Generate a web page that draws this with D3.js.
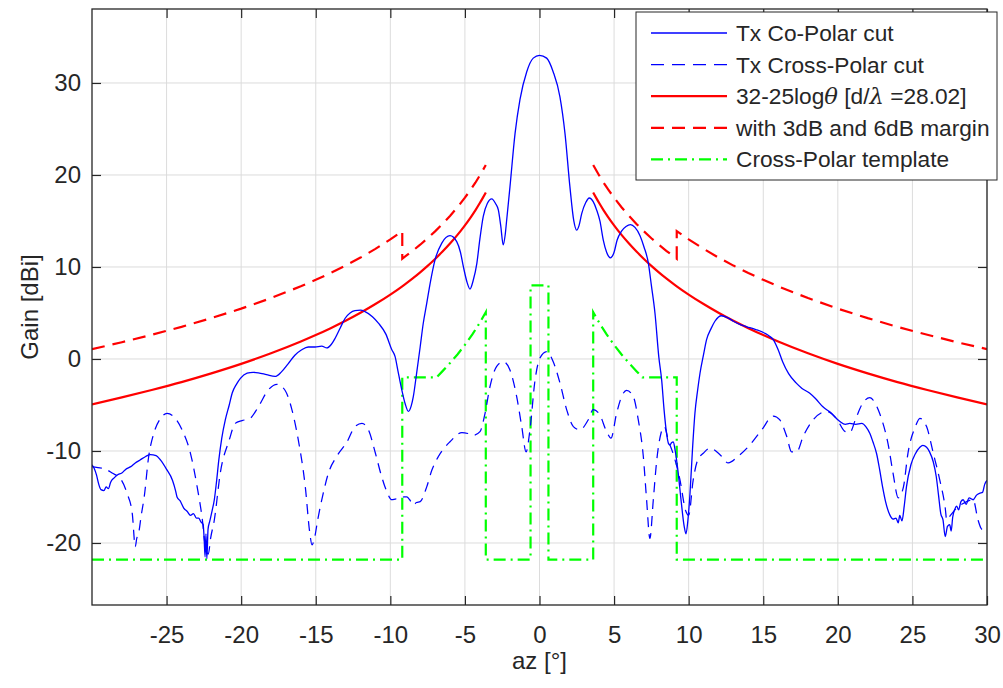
<!DOCTYPE html>
<html><head><meta charset="utf-8">
<script src="https://cdn.jsdelivr.net/npm/d3@7"></script>
<style>
body{margin:0;background:#fff;}
svg{display:block;}
text{font-family:"Liberation Sans",Arial,Helvetica,sans-serif;fill:#262626;}
</style>
</head><body>
<svg id="chart" width="1003" height="688"></svg>
<script>
// ---------- data ----------
const xTicks = [-25,-20,-15,-10,-5,0,5,10,15,20,25,30];
const yTicks = [-20,-10,0,10,20,30];

const coAz = [-30,-29.85,-29.7,-29.55,-29.4,-29.2,-29.05,-28.9,-28.75,-28.5,-28.3,-28,-27.75,-27.4,-27.1,-26.8,-26.4,-26.1,-25.7,-25.4,-25,-24.6,-24.4,-24.3,-24.1,-23.85,-23.6,-23.4,-23.2,-23,-22.85,-22.7,-22.55,-22.48,-22.42,-22.36,-22.3,-22.22,-22.1,-21.95,-21.8,-21.65,-21.5,-21.3,-21.06,-20.8,-20.6,-20.3,-20.05,-19.6,-19.2,-18.85,-18.3,-17.73,-17.3,-16.84,-16.4,-15.94,-15.5,-15.05,-14.6,-14.26,-13.95,-13.7,-13.35,-13.04,-12.7,-12.37,-12,-11.7,-11.2,-10.8,-10.3,-9.9,-9.68,-9.5,-9.24,-9,-8.79,-8.6,-8.46,-8.25,-8,-7.8,-7.56,-7.3,-7,-6.55,-6,-5.55,-5.3,-5.1,-4.85,-4.66,-4.45,-4.2,-4,-3.77,-3.5,-3.2,-2.95,-2.76,-2.6,-2.43,-2.3,-2.2,-1.98,-1.64,-1.31,-0.86,-0.42,0,0.48,0.92,1.37,1.71,2.04,2.3,2.49,2.65,2.83,3.1,3.34,3.6,3.83,4.05,4.28,4.5,4.75,5,5.2,5.5,5.8,6.1,6.4,6.74,7,7.3,7.5,7.74,8,8.19,8.35,8.52,8.65,8.75,8.85,8.97,9.1,9.3,9.5,9.7,9.82,9.95,10.09,10.25,10.42,10.6,10.76,11,11.2,11.5,11.76,12.2,12.6,13,13.5,13.9,14.5,15.1,15.4,15.67,16,16.3,16.7,17.2,17.6,18.1,18.5,19,19.5,20.14,20.5,20.8,21.2,21.6,21.9,22.15,22.35,22.6,22.8,23,23.2,23.5,23.7,23.9,24.05,24.15,24.3,24.45,24.6,24.9,25.2,25.5,25.7,25.95,26.15,26.4,26.6,26.75,26.9,27.05,27.2,27.35,27.5,27.6,27.7,27.85,27.96,28.1,28.25,28.4,28.6,28.8,29.07,29.3,29.5,29.7,29.85,30];
const coGain = [-11.5,-11.9,-12.6,-13.6,-14.2,-14.3,-13.9,-14.1,-13.4,-12.9,-12.6,-12.4,-12,-11.7,-11.3,-11,-10.6,-10.4,-10.5,-11,-12,-13.2,-14.3,-15,-15.4,-16.2,-16.6,-17,-16.8,-17.3,-17.3,-17.7,-18,-19.6,-21.5,-19,-21.7,-18.5,-17.6,-16.5,-15.3,-13.3,-11,-8.6,-6.6,-5,-3.7,-2.7,-2.1,-1.55,-1.45,-1.5,-1.7,-1.9,-1.4,-0.5,0.4,1,1.3,1.3,1.4,1.2,1.6,2.25,3.4,4.4,5,5.25,5.3,5.15,4.6,3.9,2.7,1,0.25,-1.2,-3.3,-4.9,-5.7,-5.1,-4.1,-1.7,1.3,3.8,6.05,8.5,10.8,12.6,13.4,12.75,11.6,10,8.3,7.6,8.5,10.4,13,15.5,16.9,17.4,16.9,16.2,14.5,12.4,13.5,15.1,18.7,24.5,28.2,31.2,32.7,33,32.7,31.2,28.5,24.5,18.7,15,14,14.5,15.8,17,17.5,17.1,16.2,15,12.9,11.6,11,11.6,12.9,13.9,14.4,14.6,14.3,13.4,12.2,10.4,8,5,0.2,-2.3,-5.5,-8.1,-9.2,-9.35,-9.1,-9,-10,-12.4,-15.5,-18.2,-19,-17.5,-14.6,-10,-5.9,-3.4,-1.55,0.5,2.1,3.3,4.1,4.7,4.5,4.1,3.7,3.5,3.2,2.8,2.5,2.1,1,-0.3,-1.6,-2.6,-3.2,-3.7,-4.3,-5.2,-5.8,-6.8,-7.1,-7,-7.1,-7,-7.4,-8.1,-9,-10.3,-12,-13.9,-15.5,-17,-17.4,-17.3,-17.8,-17,-17.6,-16,-13.9,-11.5,-10.3,-9.6,-9.4,-9.6,-10.1,-11.2,-12.8,-14.8,-16.8,-17.5,-19.3,-18.2,-18,-18.7,-17.2,-16.3,-16,-16.4,-15.5,-15.3,-15.8,-15.1,-15.3,-14.8,-14.6,-14.5,-13.6,-13.2];

const xpAz = [-30,-29.6,-29.2,-28.65,-28.1,-27.65,-27.3,-27.1,-27,-26.87,-26.7,-26.5,-26.2,-25.86,-25.4,-24.97,-24.5,-23.96,-23.4,-22.95,-22.6,-22.4,-22.2,-22.05,-21.8,-21.4,-20.8,-20.4,-19.94,-19.4,-18.85,-18.2,-17.6,-17.06,-16.6,-16.17,-15.7,-15.4,-15.25,-15.1,-14.87,-14.5,-14.15,-13.6,-12.9,-12.37,-11.9,-11.47,-11,-10.58,-10.24,-9.9,-9.6,-9.35,-9.1,-8.9,-8.7,-8.46,-8.25,-8,-7.56,-7.22,-6.78,-6,-5.2,-4.8,-4.44,-3.99,-3.65,-3.32,-2.87,-2.43,-1.98,-1.53,-1.19,-0.9,-0.64,-0.3,0.03,0.48,0.92,1.37,1.82,2.27,2.71,3.27,3.6,4.05,4.5,4.79,5.17,5.5,5.84,6.29,6.62,6.96,7.18,7.4,7.63,7.86,8.14,8.37,8.63,9,9.4,9.8,10,10.3,10.6,10.98,11.43,12.1,12.65,13.3,14.1,14.9,15.67,16.1,16.57,16.9,17.24,17.68,18.35,19.25,19.9,20.5,20.8,21.2,21.6,22.15,22.5,22.8,23.4,23.7,24.05,24.4,24.7,25.2,25.5,25.95,26.4,26.84,27.2,27.3,27.5,27.85,28.4,29.07,29.4,29.6,30];
const xpGain = [-11.7,-11.8,-11.9,-12.4,-13,-14.6,-16.8,-20.4,-19.5,-18.9,-17,-15,-10.6,-8.1,-6.45,-5.9,-6.3,-7.7,-10.25,-13.9,-17.5,-20.4,-21.2,-19.5,-17.5,-12.4,-8.8,-7,-6.7,-6.45,-5.2,-3.4,-2.75,-3.4,-5.5,-8.8,-13.9,-18.9,-20.2,-19.6,-17.5,-14.6,-12.4,-10.6,-9,-7.35,-7,-7.7,-10.25,-12.8,-14.4,-15.3,-15.2,-15.2,-15,-15,-15.3,-15.9,-15.6,-15.5,-13.9,-12.1,-10.6,-9,-8,-8.1,-8.3,-7.9,-5.9,-3,-0.8,-0.3,-1.2,-4.1,-7.35,-10.1,-7.7,-2.3,0.1,0.8,-0.3,-2.6,-5.5,-7.35,-7.7,-6.6,-5.5,-6.1,-7.9,-8.6,-5.9,-4.1,-3.4,-4.1,-6.6,-10.6,-15.3,-19.5,-15.3,-11,-8.1,-7.35,-8.8,-10.5,-13,-16.5,-17,-13.2,-11,-10.25,-9.7,-10.4,-11.3,-10.6,-9.35,-7.7,-6.2,-6.6,-8.4,-10.1,-10.1,-8.4,-6.6,-5.7,-6.45,-7.9,-8,-6.5,-5,-4.2,-4.8,-5.9,-9.5,-12.4,-15.1,-13.9,-10.25,-7.35,-6.45,-7.35,-10.25,-13.2,-16.2,-17.5,-17.1,-16.4,-15.7,-15.3,-17.5,-18.4,-18.9];

// 32-25logθ mask (|az| in degrees)
const maskAz   = [3.6,3.8,4,4.3,4.6,5,5.5,6,6.5,7,7.5,8,8.5,9,9.2,10,11,12,13,14,15,16,18,20,22,24,26,28,30];
const maskGain = [18.09,17.51,16.95,16.16,15.43,14.53,13.49,12.55,11.68,10.87,10.12,9.42,8.76,8.14,7.9,7,5.97,5.02,4.15,3.35,2.6,1.9,0.62,-0.53,-1.56,-2.51,-3.37,-4.18,-4.93];
// mask with 3 dB margin (|az| 3.6..9.2) and 6 dB margin (|az| 9.2..30)
const marginInAz    = [3.6,3.8,4,4.3,4.6,5,5.5,6,6.5,7,7.5,8,8.5,9,9.2];
const marginInGain  = [21.09,20.51,19.95,19.16,18.43,17.53,16.49,15.55,14.68,13.87,13.12,12.42,11.76,11.14,10.9];
const marginOutAz   = [9.2,10,11,12,13,14,15,16,18,20,22,24,26,28,30];
const marginOutGain = [13.9,13,11.97,11.02,10.15,9.35,8.6,7.9,6.62,5.47,4.44,3.49,2.63,1.82,1.07];

// Cross-polar template
const tplAz   = [-30,-9.2,-9.2,-6.9,-6.5,-6,-5.5,-5,-4.5,-4,-3.6,-3.6,-0.6,-0.6,0.6,0.6,3.6,3.6,4,4.5,5,5.5,6,6.5,6.9,9.2,9.2,30];
const tplGain = [-21.8,-21.8,-2,-2,-1.32,-0.45,0.49,1.53,2.67,3.95,5.09,-21.8,-21.8,8,8,-21.8,-21.8,5.09,3.95,2.67,1.53,0.49,-0.45,-1.32,-2,-2,-21.8,-21.8];

const legendLabels = ["Tx Co-Polar cut","Tx Cross-Polar cut","32-25logθ [d/λ =28.02]","with 3dB and 6dB margin","Cross-Polar template"];

// ---------- drawing ----------
const svg = d3.select("#chart");
const m = {l:92, t:9, r:987, b:605};
const x = d3.scaleLinear().domain([-30,30]).range([m.l,m.r]);
const y = d3.scaleLinear().domain([-26.74,38.04]).range([m.b,m.t]);
const axisCol = "#262626";
const fmt = d => String(d);

svg.append("rect").attr("width",1003).attr("height",688).attr("fill","#fff");

// grid
const grid = svg.append("g");
grid.selectAll(".gx").data(xTicks).join("line")
  .attr("x1",d=>x(d)).attr("x2",d=>x(d)).attr("y1",m.t).attr("y2",m.b)
  .attr("stroke","#dcdcdc").attr("stroke-width",1);
grid.selectAll(".gy").data(yTicks).join("line")
  .attr("x1",m.l).attr("x2",m.r).attr("y1",d=>y(d)).attr("y2",d=>y(d))
  .attr("stroke","#dcdcdc").attr("stroke-width",1);

// clip
svg.append("clipPath").attr("id","clip").append("rect")
  .attr("x",m.l).attr("y",m.t).attr("width",m.r-m.l).attr("height",m.b-m.t);
const plot = svg.append("g").attr("clip-path","url(#clip)");

const lineLin = d3.line().x(d=>x(d[0])).y(d=>y(d[1]));
const lineMono = d3.line().x(d=>x(d[0])).y(d=>y(d[1])).curve(d3.curveMonotoneX);

const zip = (a,b)=>a.map((v,i)=>[v,b[i]]);

// red solid mask (left & right)
const maskRight = zip(maskAz, maskGain);
const maskLeft = maskRight.map(d=>[-d[0],d[1]]).reverse();
[maskLeft, maskRight].forEach(p=>{
  plot.append("path").attr("d",lineMono(p)).attr("fill","none")
    .attr("stroke","#ff0000").attr("stroke-width",2.2);
});

// red dashed margin mask
const inR = zip(marginInAz, marginInGain), outR = zip(marginOutAz, marginOutGain);
const dashRight = inR.concat(outR);
const dashLeft = outR.map(d=>[-d[0],d[1]]).reverse().concat(inR.map(d=>[-d[0],d[1]]).reverse());
[dashLeft, dashRight].forEach(p=>{
  plot.append("path").attr("d",lineLin(p)).attr("fill","none")
    .attr("stroke","#ff0000").attr("stroke-width",2.2).attr("stroke-dasharray","13,8");
});

// green template
plot.append("path").attr("d",lineLin(zip(tplAz,tplGain))).attr("fill","none")
  .attr("stroke","#00ff00").attr("stroke-width",2.2).attr("stroke-dasharray","12,5,2,5");

// cross-polar
plot.append("path").attr("d",lineMono(zip(xpAz,xpGain))).attr("fill","none")
  .attr("stroke","#0000ff").attr("stroke-width",1.25).attr("stroke-dasharray","10,7");

// co-polar
plot.append("path").attr("d",lineMono(zip(coAz,coGain))).attr("fill","none")
  .attr("stroke","#0000ff").attr("stroke-width",1.3);

// axes
const tl = 9;
const gB = svg.append("g").attr("transform",`translate(0,${m.b})`)
  .call(d3.axisBottom(x).tickValues(xTicks).tickSizeInner(-tl).tickSizeOuter(0).tickPadding(21).tickFormat(fmt));
const gT = svg.append("g").attr("transform",`translate(0,${m.t})`)
  .call(d3.axisTop(x).tickValues(xTicks).tickSizeInner(-tl).tickSizeOuter(0).tickFormat(""));
const gL = svg.append("g").attr("transform",`translate(${m.l},0)`)
  .call(d3.axisLeft(y).tickValues(yTicks).tickSizeInner(-tl).tickSizeOuter(0).tickPadding(11).tickFormat(fmt));
const gR = svg.append("g").attr("transform",`translate(${m.r},0)`)
  .call(d3.axisRight(y).tickValues(yTicks).tickSizeInner(-tl).tickSizeOuter(0).tickFormat(""));
[gB,gT,gL,gR].forEach(g=>{
  g.select(".domain").remove();
  g.selectAll(".tick line").attr("stroke",axisCol).attr("stroke-width",1.2);
  g.selectAll(".tick text").attr("fill",axisCol).style("font-size","24px")
    .style("font-family",'"Liberation Sans",Arial,Helvetica,sans-serif');
});
svg.append("rect").attr("x",m.l).attr("y",m.t).attr("width",m.r-m.l).attr("height",m.b-m.t)
  .attr("fill","none").attr("stroke",axisCol).attr("stroke-width",1.3);

// axis labels
svg.append("text").attr("x",(m.l+m.r)/2).attr("y",669).attr("text-anchor","middle")
  .style("font-size","24px").text("az [°]");
svg.append("text").attr("transform",`translate(38,${(m.t+m.b)/2}) rotate(-90)`)
  .attr("text-anchor","middle").style("font-size","24px").text("Gain [dBi]");

// legend
const lg = svg.append("g");
lg.append("rect").attr("x",636).attr("y",12).attr("width",361).attr("height",168)
  .attr("fill","#fff").attr("stroke",axisCol).attr("stroke-width",1);
const styles = [
  {c:"#0000ff",w:1.3,d:null},
  {c:"#0000ff",w:1.25,d:"13,8"},
  {c:"#ff0000",w:2.2,d:null},
  {c:"#ff0000",w:2.2,d:"13,8"},
  {c:"#00ff00",w:2.2,d:"12,5,2,5"}
];
legendLabels.forEach((lab,i)=>{
  const yy = 33 + i*31.6;
  const s = styles[i];
  lg.append("line").attr("x1",651).attr("x2",727).attr("y1",yy).attr("y2",yy)
    .attr("stroke",s.c).attr("stroke-width",s.w).attr("stroke-dasharray",s.d);
  const t = lg.append("text").attr("x",736).attr("y",yy+8).style("font-size","22.7px");
  if(i===2){
    const parts = lab.split(/(θ|λ)/);
    parts.forEach(p=>{
      if(p==="θ"||p==="λ"){
        t.append("tspan").style("font-family",'"DejaVu Serif","Liberation Serif",serif')
          .style("font-style","italic").text(p);
      } else if(p.length){
        t.append("tspan").text(p);
      }
    });
  } else {
    t.text(lab);
  }
});
</script>
</body></html>
